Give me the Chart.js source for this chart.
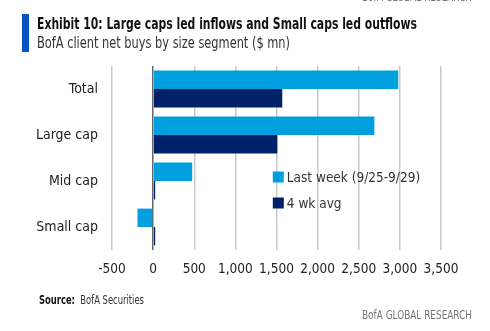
<!DOCTYPE html>
<html>
<head>
<meta charset="utf-8">
<script src="https://cdn.jsdelivr.net/npm/chart.js@4.4.0/dist/chart.umd.min.js"></script>
<style>
  html, body { margin: 0; padding: 0; background: #fff; }
  body { width: 490px; height: 331px; position: relative; overflow: hidden;
    font-family: 'Liberation Sans Narrow', 'DejaVu Sans Condensed', 'Roboto', sans-serif; color: #222; }
  #wrap { position: absolute; left: 0; top: 0; width: 490px; height: 331px; }
  .bar { position: absolute; left: 22px; top: 14px; width: 7px; height: 38px; background: #0a53c4; }
  .txt { position: absolute; white-space: nowrap; transform-origin: 0 0; }
  .title { left: 37px; top: 14px; font-size: 16px; font-weight: bold; color: #111; }
  .sub { left: 37px; top: 33px; font-size: 16px; color: #333; }
  .src { left: 39px; top: 293px; font-size: 11.5px; color: #333; }
  .src b { color: #111; }
  .brand { font-size: 11.5px; color: #777; left: 362px; }
</style>
</head>
<body>
<div id="wrap"><canvas id="grafico" width="490" height="331"></canvas></div>
<div class="txt brand" style="top:-10px" data-w="110">BofA GLOBAL RESEARCH</div>
<div class="bar"></div>
<div class="txt title" data-w="380">Exhibit 10: Large caps led inflows and Small caps led outflows</div>
<div class="txt sub" data-w="253">BofA client net buys by size segment ($ mn)</div>
<div class="txt src" data-w="105"><b>Source:</b>&nbsp; BofA Securities</div>
<div class="txt brand" style="top:308px" data-w="110">BofA GLOBAL RESEARCH</div>
<script>
const categorias = ['Total', 'Large cap', 'Mid cap', 'Small cap'];
const ultimaSemana = [2980, 2690, 475, -190];
const media4s = [1570, 1510, 25, 25];
const nomesSeries = ['Last week (9/25-9/29)', '4 wk avg'];
const coresSeries = ['#009fdf', '#012169'];
const ticksX = [-500, 0, 500, 1000, 1500, 2000, 2500, 3000, 3500];

const fonte = "'Liberation Sans Narrow', 'DejaVu Sans Condensed', 'Roboto', sans-serif";

// squeeze the header/footer texts horizontally to their set widths
document.querySelectorAll('[data-w]').forEach(el => {
  const alvo = parseFloat(el.dataset.w);
  el.style.transform = `scaleX(${alvo / el.getBoundingClientRect().width})`;
});

// legend drawn inside the plot, next to the mid cap bars
const legendaInterna = {
  id: 'legendaInterna',
  afterDraw(chart) {
    const ctx = chart.ctx;
    const x = chart.scales.x.getPixelForValue(1455);
    const y0 = chart.scales.y.getPixelForValue(2) - 4;
    ctx.save();
    ctx.font = `13.5px ${fonte}`;
    ctx.textBaseline = 'middle';
    chart.data.datasets.forEach((ds, k) => {
      const y = y0 + k * 26;
      ctx.fillStyle = ds.backgroundColor;
      ctx.fillRect(x, y - 5.5, 11, 11);
      ctx.fillStyle = '#333';
      ctx.fillText(ds.label, x + 14, y + 1);
    });
    ctx.restore();
  },
};

new Chart(document.getElementById('grafico').getContext('2d'), {
  type: 'bar',
  data: {
    labels: categorias,
    datasets: [ultimaSemana, media4s].map((d, k) => ({
      label: nomesSeries[k],
      data: d,
      backgroundColor: coresSeries[k],
      borderWidth: 0,
      categoryPercentage: 0.8,
      barPercentage: 1.0,
    })),
  },
  options: {
    indexAxis: 'y',
    responsive: false,
    animation: false,
    layout: { padding: { top: 66, right: 49, bottom: 0, left: 0 } },
    plugins: { legend: { display: false }, tooltip: { enabled: false } },
    scales: {
      x: {
        min: -500,
        max: 3500,
        afterBuildTicks: s => { s.ticks = ticksX.map(v => ({ value: v })); },
        afterFit: s => { s.height = 81; },
        grid: {
          color: c => (c.tick && c.tick.value === 0 ? '#666' : '#c9c9c9'),
          lineWidth: 1.5,
          drawTicks: false,
        },
        border: { display: false },
        ticks: {
          padding: 11,
          maxRotation: 0,
          minRotation: 0,
          autoSkip: false,
          color: '#222',
          font: { family: fonte, size: 13.5 },
          callback: v => v.toLocaleString('en-US'),
        },
      },
      y: {
        afterFit: s => { s.width = 112; },
        grid: { display: false, drawTicks: false },
        border: { display: false },
        ticks: {
          padding: 14,
          color: '#222',
          font: { family: fonte, size: 14 },
        },
      },
    },
  },
  plugins: [legendaInterna],
});
</script>
</body>
</html>
